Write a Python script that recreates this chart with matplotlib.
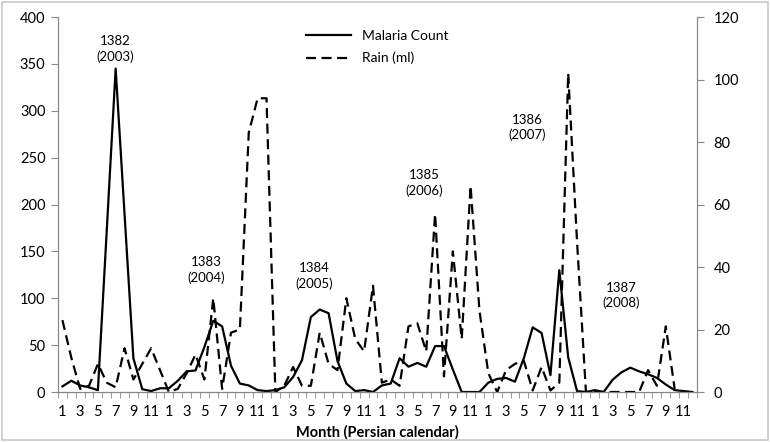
import numpy as np
import matplotlib.pyplot as plt
from matplotlib.patches import Rectangle

plt.rcParams['font.family'] = ['Lato', 'DejaVu Sans']

# monthly values, 6 Persian years (1382-1387), months 1..12
malaria = [6, 12, 7, 5, 2, 173, 345, 190, 36, 3, 1, 4,
           4, 12, 22, 23, 48, 76, 70, 28, 9, 7, 2, 1,
           2, 5, 16, 34, 80, 88, 84, 33, 9, 1, 2, 0,
           7, 9, 36, 27, 31, 27, 49, 49, 24, 0, 0, 0,
           10, 14, 15, 11, 36, 69, 63, 18, 130, 37, 1, 0,
           2, 0, 13, 21, 26, 22, 19, 15, 8, 2, 1, 0]
rain = [23, 11, 1, 2, 9, 3, 1.5, 14, 4, 9, 14, 7,
        0, 1, 6, 12, 4, 30, 1, 19, 20, 83, 94, 94,
        0, 2, 8, 2, 2, 19, 9, 7, 30, 17, 13, 34,
        3, 4, 2, 21, 22, 13, 57, 5, 45, 17, 66, 26,
        6, 0, 7, 9, 10, 0.5, 8, 0.5, 3, 102, 48, 0,
        0, 0, 0, 0, 0, 0, 7, 2, 21, 1, np.nan, np.nan]
month_labels = [str(m) for m in range(1, 13)] * 6
year_notes = ['1382\n(2003)', '1383\n(2004)', '1384\n(2005)',
              '1385\n(2006)', '1386\n(2007)', '1387\n(2008)']
note_x = [6.0, 16.2, 28.4, 40.8, 52.4, 63.0]
note_y = [366, 130, 124, 223, 282, 103]

x = np.arange(len(malaria))

fig = plt.figure(figsize=(7.7, 4.42), dpi=100)
fig.patches.append(Rectangle((0.003, 0.004), 0.994, 0.992, transform=fig.transFigure,
                             fill=False, edgecolor='#c8c8c8', linewidth=1.2))
ax = fig.add_axes([0.0753, 0.1131, 0.8297, 0.8484])
ax2 = ax.twinx()

l1, = ax.plot(x, malaria, color='black', lw=1.6, label='Malaria Count')
l2, = ax2.plot(x, rain, color='black', lw=1.6, linestyle=(0, (4.5, 2.5)), label='Rain (ml)')

ax.set_xlim(-0.5, len(malaria) - 0.5)
ax.set_ylim(0, 400)
ax2.set_ylim(0, 120)
ax.set_yticks(range(0, 401, 50))
ax2.set_yticks(range(0, 121, 20))

ax.set_xticks(x[::2])
ax.set_xticklabels(month_labels[::2])
ax.set_xticks(np.arange(-0.5, len(malaria), 1), minor=True)
ax.tick_params(axis='x', which='major', length=0, pad=9, labelsize=10.5)
ax.tick_params(axis='x', which='minor', length=4, color='#888888')
ax.tick_params(axis='y', length=5, color='#888888', labelsize=10.5, pad=4)
ax2.tick_params(axis='y', length=5, color='#888888', labelsize=10.5, pad=7)

for a in (ax, ax2):
    a.spines['top'].set_visible(False)
    for s in ('left', 'right', 'bottom'):
        a.spines[s].set_color('#888888')

ax.set_xlabel('Month (Persian calendar)', fontweight='bold', fontsize=10.5, labelpad=5)

for t, tx, ty in zip(year_notes, note_x, note_y):
    ax.text(tx, ty, t, ha='center', va='center', fontsize=9.5, linespacing=1.3)

ax.legend(handles=[l1, l2], loc='upper center', bbox_to_anchor=(0.5, 1.0),
          frameon=False, fontsize=10, handlelength=3.2, labelspacing=0.75)

fig.savefig('out.png', dpi=100)
